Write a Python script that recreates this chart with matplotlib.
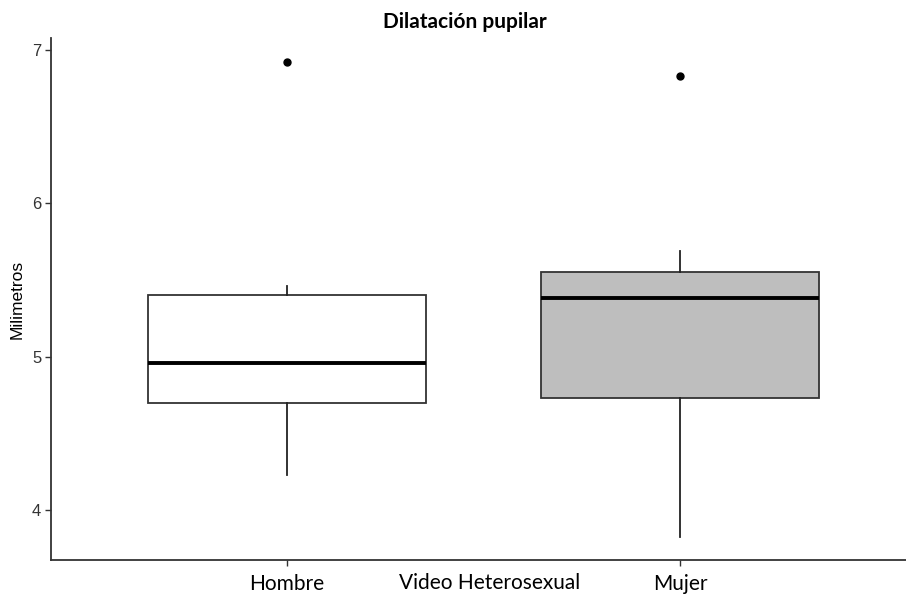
import matplotlib
matplotlib.use("Agg")
import matplotlib.pyplot as plt

# Resumen de cada grupo (milímetros)
grupos = ["Hombre", "Mujer"]
bigote_inf = [4.23, 3.82]
q1 = [4.70, 4.73]
mediana = [4.96, 5.38]
q3 = [5.40, 5.55]
bigote_sup = [5.46, 5.69]
atipicos = [[6.92], [6.83]]
relleno = ["white", "#bebebe"]

fig = plt.figure(figsize=(9.06, 5.96), dpi=100)
ax = fig.add_axes([51 / 906, 36 / 596, 865 / 906, 522 / 596])

stats = []
for i, g in enumerate(grupos):
    stats.append(dict(label=g, whislo=bigote_inf[i], q1=q1[i], med=mediana[i],
                      q3=q3[i], whishi=bigote_sup[i], fliers=atipicos[i]))

bp = ax.bxp(stats, positions=[1, 2], widths=0.705, patch_artist=True,
            showcaps=False,
            boxprops=dict(edgecolor="#333333", linewidth=1.3),
            medianprops=dict(color="black", linewidth=2.8, solid_capstyle="butt"),
            whiskerprops=dict(color="#222222", linewidth=1.3),
            flierprops=dict(marker="o", markersize=5, markerfacecolor="black",
                            markeredgecolor="black"))
for caja, c in zip(bp["boxes"], relleno):
    caja.set_facecolor(c)

ax.set_xlim(0.4, 2.6)
ax.set_ylim(3.673, 7.078)
ax.set_yticks([4, 5, 6, 7])
ax.set_yticklabels(["4", "5", "6", "7"], family="Liberation Sans", fontsize=12,
                   color="#333333")
ax.set_xticks([1, 2])
ax.set_xticklabels(grupos, family="Lato", fontsize=15, color="black")
ax.tick_params(axis="both", length=4, width=1, color="#333333")
ax.tick_params(axis="x", pad=6)
ax.tick_params(axis="y", pad=3)

for lado in ["top", "right"]:
    ax.spines[lado].set_visible(False)
for lado in ["left", "bottom"]:
    ax.spines[lado].set_color("#333333")
    ax.spines[lado].set_linewidth(1.3)

ax.set_xlabel("Video Heterosexual", family="Lato", fontsize=15)
ax.xaxis.set_label_coords((490 - 51) / 865, -0.025)
ax.set_ylabel("Milimetros", family="Liberation Sans", fontsize=12.5)
ax.yaxis.set_label_coords(-0.03, 0.5)

fig.text(465 / 906, 1 - 22 / 596, "Dilatación pupilar", family="Lato",
         fontweight="bold", fontsize=15, ha="center", va="center")

fig.savefig("out.png", dpi=100)
